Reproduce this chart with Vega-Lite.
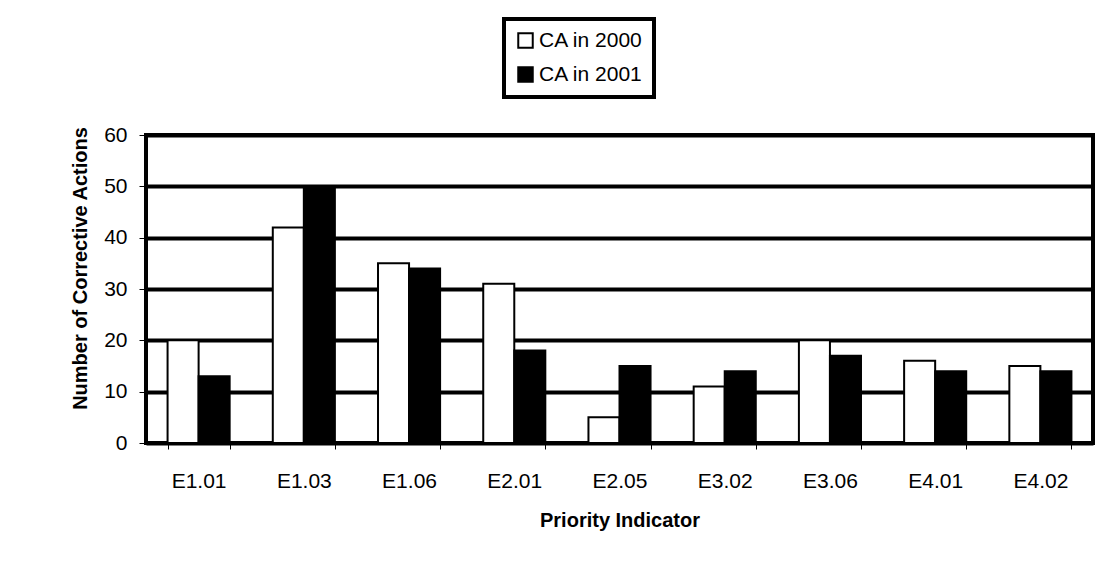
{
  "$schema": "https://vega.github.io/schema/vega-lite/v6.json",
  "width": 947,
  "height": 308,
  "autosize": "none",
  "padding": {"left": 146, "top": 135, "right": 20, "bottom": 128},
  "background": "white",
  "data": {
    "values": [
      {"indicator": "E1.01", "series": "CA in 2000", "value": 20},
      {"indicator": "E1.01", "series": "CA in 2001", "value": 13},
      {"indicator": "E1.03", "series": "CA in 2000", "value": 42},
      {"indicator": "E1.03", "series": "CA in 2001", "value": 50},
      {"indicator": "E1.06", "series": "CA in 2000", "value": 35},
      {"indicator": "E1.06", "series": "CA in 2001", "value": 34},
      {"indicator": "E2.01", "series": "CA in 2000", "value": 31},
      {"indicator": "E2.01", "series": "CA in 2001", "value": 18},
      {"indicator": "E2.05", "series": "CA in 2000", "value": 5},
      {"indicator": "E2.05", "series": "CA in 2001", "value": 15},
      {"indicator": "E3.02", "series": "CA in 2000", "value": 11},
      {"indicator": "E3.02", "series": "CA in 2001", "value": 14},
      {"indicator": "E3.06", "series": "CA in 2000", "value": 20},
      {"indicator": "E3.06", "series": "CA in 2001", "value": 17},
      {"indicator": "E4.01", "series": "CA in 2000", "value": 16},
      {"indicator": "E4.01", "series": "CA in 2001", "value": 14},
      {"indicator": "E4.02", "series": "CA in 2000", "value": 15},
      {"indicator": "E4.02", "series": "CA in 2001", "value": 14}
    ]
  },
  "mark": {"type": "bar", "stroke": "black", "strokeWidth": 2},
  "encoding": {
    "x": {
      "field": "indicator",
      "type": "nominal",
      "sort": null,
      "scale": {"paddingInner": 0.41, "paddingOuter": 0.205},
      "axis": {
        "title": "Priority Indicator",
        "labelAngle": 0,
        "tickBand": "extent",
        "tickSize": 6,
        "tickColor": "black",
        "labelPadding": 21,
        "titlePadding": 19,
        "domain": false,
        "grid": false
      }
    },
    "xOffset": {
      "field": "series",
      "type": "nominal",
      "scale": {"paddingInner": 0, "paddingOuter": 0}
    },
    "y": {
      "field": "value",
      "type": "quantitative",
      "scale": {"domain": [0, 60], "nice": false},
      "axis": {
        "title": "Number of Corrective Actions",
        "titleY": 133,
        "values": [0, 10, 20, 30, 40, 50, 60],
        "grid": true,
        "gridColor": "black",
        "gridWidth": 4,
        "gridOpacity": 1,
        "tickSize": 7,
        "tickColor": "black",
        "labelPadding": 12,
        "titlePadding": 13,
        "domain": false
      }
    },
    "fill": {
      "field": "series",
      "type": "nominal",
      "scale": {"domain": ["CA in 2000", "CA in 2001"], "range": ["white", "black"]},
      "legend": {
        "title": null,
        "orient": "none",
        "legendX": 358,
        "legendY": -116,
        "direction": "vertical",
        "symbolType": "square",
        "symbolSize": 210,
        "symbolStrokeColor": "black",
        "symbolStrokeWidth": 2,
        "labelFontSize": 21,
        "labelFont": "Liberation Sans",
        "labelColor": "black",
        "labelOffset": 3,
        "rowPadding": 11,
        "strokeColor": "black",
        "padding": 11,
        "fillColor": "white",
        "encode": {"legend": {"update": {"strokeWidth": {"value": 4}}}}
      }
    }
  },
  "config": {
    "font": "Liberation Sans",
    "view": {"stroke": "black", "strokeWidth": 4},
    "axis": {
      "labelFont": "Liberation Sans",
      "labelFontSize": 21,
      "labelColor": "black",
      "titleFont": "Liberation Sans",
      "titleFontSize": 20,
      "titleFontWeight": "bold",
      "titleColor": "black"
    }
  }
}
